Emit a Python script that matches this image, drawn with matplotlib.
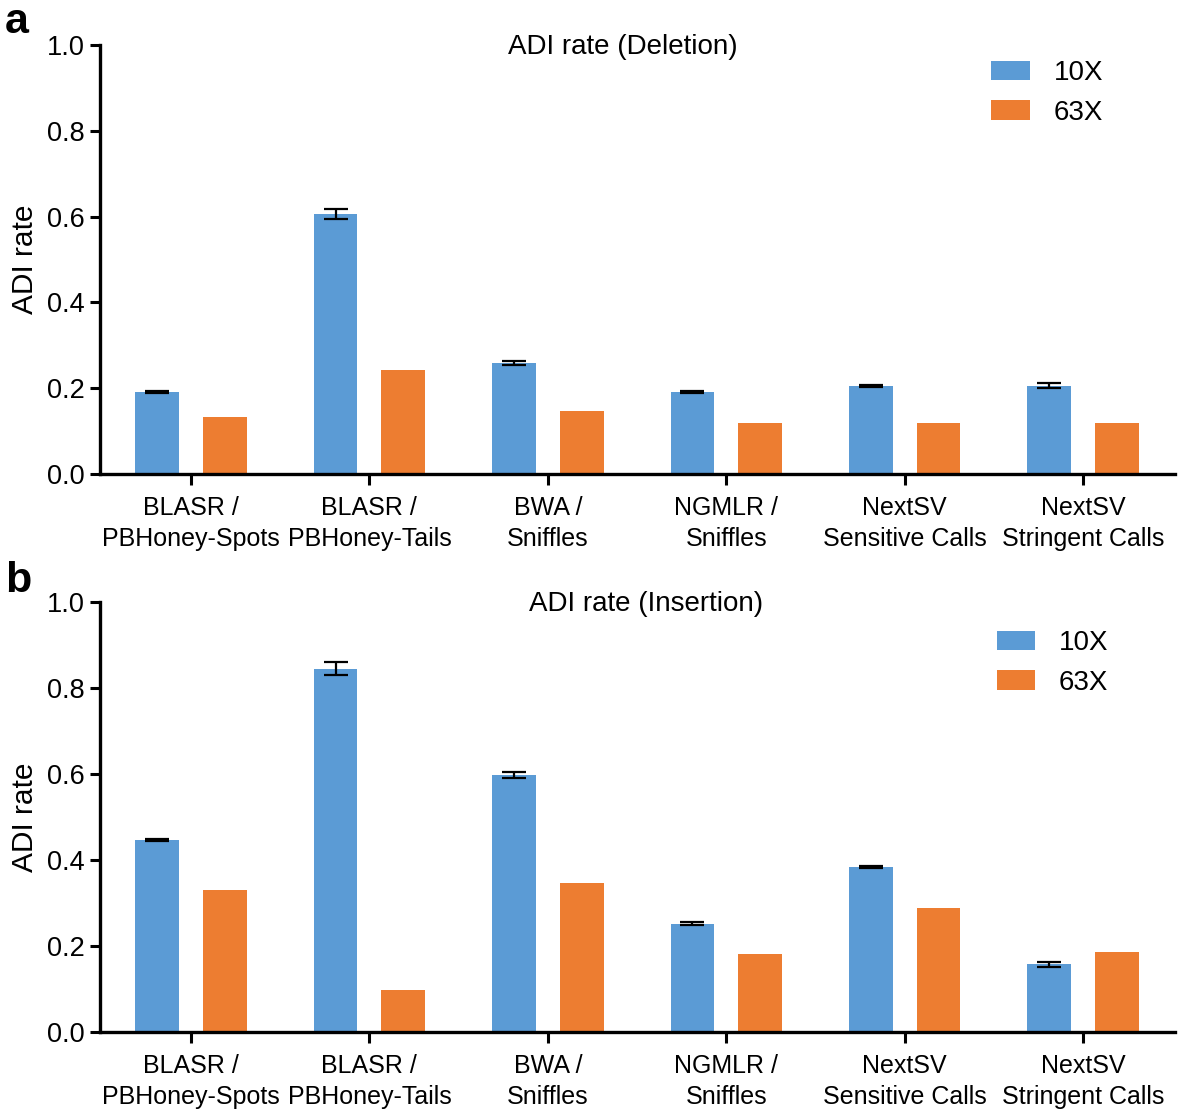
import numpy as np
import matplotlib
matplotlib.use("Agg")
import matplotlib.pyplot as plt

plt.rcParams["font.family"] = ["Liberation Sans", "DejaVu Sans"]

categories = ["BLASR /\nPBHoney-Spots", "BLASR /\nPBHoney-Tails", "BWA /\nSniffles",
              "NGMLR /\nSniffles", "NextSV\nSensitive Calls", "NextSV\nStringent Calls"]
series_names = ["10X", "63X"]

# Panel a: deletion
del_10x = [0.191, 0.606, 0.259, 0.191, 0.205, 0.206]
del_10x_err = [0.003, 0.011, 0.005, 0.003, 0.002, 0.006]
del_63x = [0.133, 0.242, 0.146, 0.120, 0.118, 0.120]

# Panel b: insertion
ins_10x = [0.447, 0.845, 0.597, 0.252, 0.383, 0.157]
ins_10x_err = [0.002, 0.015, 0.007, 0.004, 0.002, 0.005]
ins_63x = [0.331, 0.098, 0.346, 0.181, 0.288, 0.187]

yticks = [0.0, 0.2, 0.4, 0.6, 0.8, 1.0]

BLUE = "#5b9bd5"
ORANGE = "#ed7d31"


def draw_panel(ax, v10, e10, v63, title, title_x, leg_xy):
    x = np.arange(len(categories))
    w = 0.245
    off = 0.19
    ax.bar(x - off, v10, w, color=BLUE, label=series_names[0], zorder=2)
    ax.bar(x + off, v63, w, color=ORANGE, label=series_names[1], zorder=2)
    ax.errorbar(x - off, v10, yerr=e10, fmt="none", ecolor="black",
                elinewidth=1.6, capsize=8.5, capthick=1.6, zorder=3)
    ax.set_xlim(-0.51, 5.515)
    ax.set_ylim(0, 1.0)
    ax.set_yticks(yticks)
    ax.set_yticklabels(["%.1f" % t for t in yticks])
    ax.set_xticks(x)
    ax.set_xticklabels(categories, fontsize=18, linespacing=1.38)
    ax.tick_params(axis="y", labelsize=19.5, width=2.2, length=7, pad=4)
    ax.tick_params(axis="x", width=2.2, length=8, pad=8)
    for s in ["top", "right"]:
        ax.spines[s].set_visible(False)
    for s in ["left", "bottom"]:
        ax.spines[s].set_linewidth(2.4)
    ax.set_ylabel("ADI rate", fontsize=21.5, labelpad=6)
    ax.text(title_x, 0.995, title, fontsize=20, ha="center", va="center")
    ax.legend(loc="upper left", bbox_to_anchor=leg_xy, frameon=False,
              fontsize=20, handlelength=1.4, handleheight=0.7,
              handletextpad=0.85, labelspacing=0.5, borderpad=0,
              borderaxespad=0)


fig = plt.figure(figsize=[11.81, 11.15], dpi=100)
ax_a = fig.add_axes([100 / 1181, (1115 - 474) / 1115, 1075 / 1181, 429 / 1115])
ax_b = fig.add_axes([100 / 1181, (1115 - 1032) / 1115, 1075 / 1181, 430 / 1115])

draw_panel(ax_a, del_10x, del_10x_err, del_63x, "ADI rate (Deletion)", 2.42, (0.829, 0.965))
draw_panel(ax_b, ins_10x, ins_10x_err, ins_63x, "ADI rate (Insertion)", 2.55, (0.834, 0.935))

fig.text(5 / 1181, 1 - 22 / 1115, "a", fontsize=31, fontweight="bold", va="center")
fig.text(5 / 1181, 1 - 581 / 1115, "b", fontsize=31, fontweight="bold", va="center")

fig.savefig("out.png", dpi=100)
plt.close(fig)
